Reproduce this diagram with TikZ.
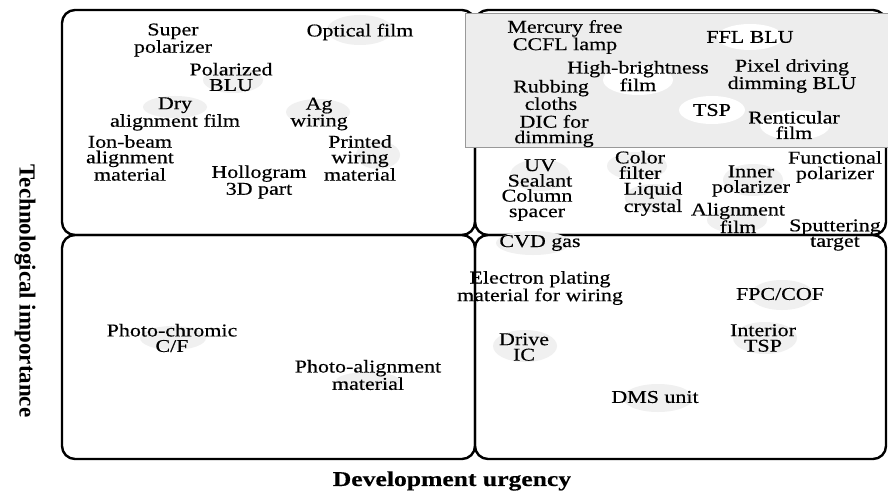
\documentclass[tikz,border=0pt]{standalone}
\usepackage{fontspec}
\setmainfont{Liberation Serif}[FakeStretch=1.22,FakeBold=0.4]
\newfontfamily\ylabfont{Liberation Serif}
\begin{document}
\begin{tikzpicture}[x=1pt,y=-1pt,
  quad/.style={draw=black, line width=2.4pt, rounded corners=13pt},
  item/.style={align=center, inner sep=0pt, font=\fontsize{18}{15.5}\selectfont},
  blob/.style={fill=black!6, draw=none},
  wblob/.style={fill=white, draw=none},
  hilite/.style={fill=black!7, draw=black!40, line width=1pt}]
\useasboundingbox (0,0) rectangle (888,492);
\fill[white] (0,0) rectangle (888,492);
% quadrants
\draw[quad] (62,10) rectangle (475,235);
\draw[quad] (475,10) rectangle (886,235);
\draw[quad] (62,235) rectangle (475,459);
\draw[quad] (475,235) rectangle (886,459);
% shaded band
\draw[hilite] (465,14) rectangle (889,147);
% faint blobs
\fill[blob] (360,30) ellipse [x radius=33, y radius=15];
\fill[blob] (233,80) ellipse [x radius=30, y radius=13];
\fill[blob] (175,107) ellipse [x radius=32, y radius=11];
\fill[blob] (318,112) ellipse [x radius=32, y radius=13];
\fill[blob] (378,155) ellipse [x radius=22, y radius=14];
\fill[wblob] (750,37) ellipse [x radius=33, y radius=13];
\fill[wblob] (638,80) ellipse [x radius=35, y radius=15];
\fill[wblob] (712,110) ellipse [x radius=33, y radius=14];
\fill[wblob] (795,125) ellipse [x radius=35, y radius=15];
\fill[blob] (540,175) ellipse [x radius=30, y radius=16];
\fill[blob] (637,166) ellipse [x radius=30, y radius=14];
\fill[blob] (653,198) ellipse [x radius=28, y radius=14];
\fill[blob] (753,180) ellipse [x radius=30, y radius=16];
\fill[blob] (737,220) ellipse [x radius=30, y radius=13];
\fill[blob] (533,243) ellipse [x radius=37, y radius=12];
\fill[blob] (782,295) ellipse [x radius=32, y radius=15];
\fill[blob] (765,338) ellipse [x radius=32, y radius=16];
\fill[blob] (525,346) ellipse [x radius=32, y radius=16];
\fill[blob] (658,398) ellipse [x radius=35, y radius=14];
\fill[blob] (173,338) ellipse [x radius=33, y radius=12];
\fill[blob] (368,381) ellipse [x radius=32, y radius=9];
% top-left items
\node[item] (sp)  at (173,40)  {Super\\polarizer};
\node[item] (of)  at (360,32)  {Optical film};
\node[item] (pb)  at (231,77)  {Polarized\\BLU};
\node[item] (dry) at (175,114) {Dry\\alignment film};
\node[item] (ag)  at (319,114) {Ag\\wiring};
\node[item] (ion) at (130,158) {Ion-beam\\alignment\\material};
\node[item] (pw)  at (360,158) {Printed\\wiring\\material};
\node[item] (hol) at (259,182) {Hollogram\\3D part};
% top-right items
\node[item] (mer) at (565,37)  {Mercury free\\CCFL lamp};
\node[item] (ffl) at (750,37)  {FFL BLU};
\node[item] (hb)  at (638,76)  {High-brightness\\film};
\node[item] (pix) at (792,76)  {Pixel driving\\dimming BLU};
\node[item] (rub) at (551,95)  {Rubbing\\cloths};
\node[item] (tsp) at (712,110) {TSP};
\node[item] (ren) at (794,125) {Renticular\\film};
\node[item] (dic) at (554,131) {DIC for\\dimming};
\node[item] (uv)  at (540,173) {UV\\Sealant};
\node[item] (col) at (537,205) {Column\\spacer};
\node[item] (cf)  at (640,165) {Color\\filter};
\node[item] (lc)  at (653,199) {Liquid\\crystal};
\node[item] (ip)  at (751,181) {Inner\\polarizer};
\node[item] (fp)  at (835,167) {Functional\\polarizer};
\node[item] (af)  at (738,218) {Alignment\\film};
\node[item] (st)  at (835,235) {Sputtering\\target};
% bottom-right items
\node[item] (cvd) at (540,243) {CVD gas};
\node[item] (ep)  at (540,288) {Electron plating\\material for wiring};
\node[item] (fpc) at (780,294) {FPC/COF};
\node[item] (itsp) at (763,338) {Interior\\TSP};
\node[item] (drv) at (524,347) {Drive\\IC};
\node[item] (dms) at (655,397) {DMS unit};
% bottom-left items
\node[item] (pc)  at (172,338) {Photo-chromic\\C/F};
\node[item] (pa)  at (368,375) {Photo-alignment\\material};
% axis labels
\node[inner sep=0pt, rotate=-90, font=\ylabfont\bfseries\fontsize{23}{23}\selectfont] (ylab) at (25,291) {Technological importance};
\node[inner sep=0pt, font=\bfseries\fontsize{21}{21}\selectfont] (xlab) at (452,481) {Development urgency};
\end{tikzpicture}
\end{document}
